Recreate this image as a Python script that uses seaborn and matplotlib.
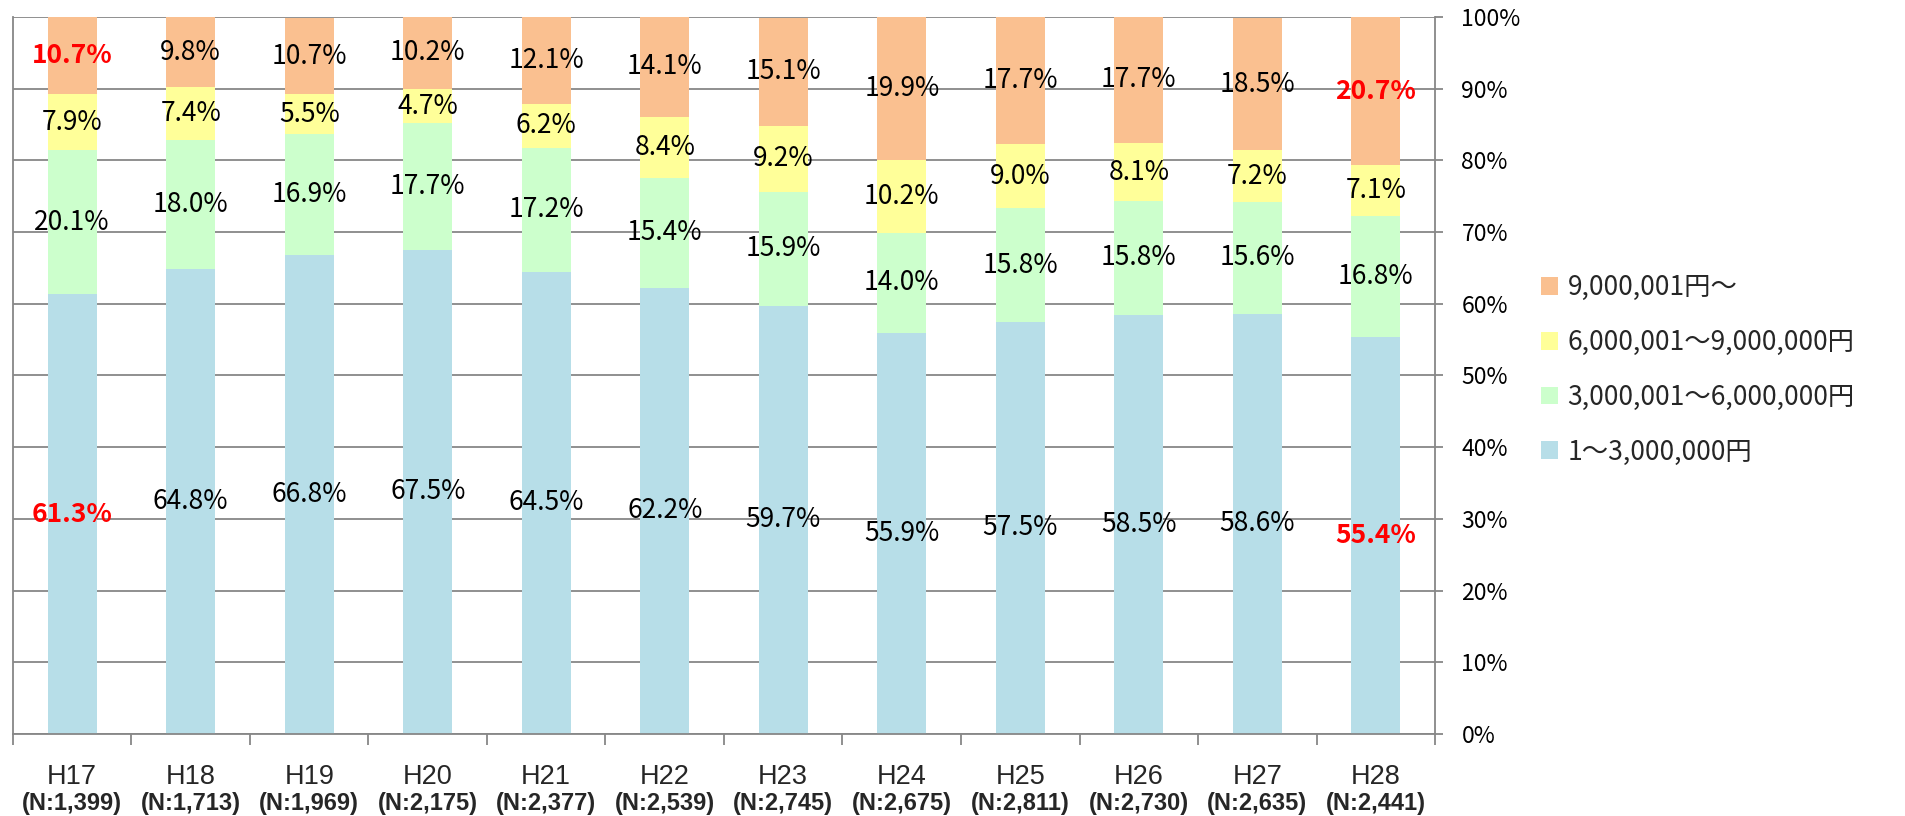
import numpy as np
import pandas as pd
import matplotlib
matplotlib.use("Agg")
import matplotlib.pyplot as plt
from matplotlib.patches import Patch
import seaborn as sns

sns.set_theme(style="white")
plt.rcParams['font.family'] = ['Noto Sans CJK JP', 'DejaVu Sans']

# data (share of respondents, %)
years = ["H17", "H18", "H19", "H20", "H21", "H22", "H23", "H24", "H25", "H26", "H27", "H28"]
sample_sizes = ["1,399", "1,713", "1,969", "2,175", "2,377", "2,539",
                "2,745", "2,675", "2,811", "2,730", "2,635", "2,441"]
band_low = [61.3, 64.8, 66.8, 67.5, 64.5, 62.2, 59.7, 55.9, 57.5, 58.5, 58.6, 55.4]
band_mid = [20.1, 18.0, 16.9, 17.7, 17.2, 15.4, 15.9, 14.0, 15.8, 15.8, 15.6, 16.8]
band_high = [7.9, 7.4, 5.5, 4.7, 6.2, 8.4, 9.2, 10.2, 9.0, 8.1, 7.2, 7.1]
band_top = [10.7, 9.8, 10.7, 10.2, 12.1, 14.1, 15.1, 19.9, 17.7, 17.7, 18.5, 20.7]
band_labels = ["1～3,000,000円", "3,000,001～6,000,000円",
               "6,000,001～9,000,000円", "9,000,001円～"]
band_colors = ["#B7DEE8", "#CCFFCC", "#FFFF99", "#FAC090"]
highlight_years = ["H17", "H28"]
highlight_bands = [band_labels[0], band_labels[3]]

df = pd.DataFrame({"year": years})
for lab, vals in zip(band_labels, [band_low, band_mid, band_high, band_top]):
    df[lab] = vals

grid_gray = "#878787"
narrow = ["Liberation Sans Narrow", "Liberation Sans"]

fig, ax = plt.subplots(figsize=(19.06, 8.16), dpi=100)
fig.subplots_adjust(left=0.0068, right=0.7529, bottom=0.1005, top=0.9792)

bottom = np.zeros(len(years))
for lab, color in zip(band_labels, band_colors):
    sns.barplot(data=df, x="year", y=lab, bottom=bottom, color=color,
                saturation=1, width=0.41, linewidth=0, errorbar=None, ax=ax)
    for i, (yr, v) in enumerate(zip(years, df[lab])):
        red = yr in highlight_years and lab in highlight_bands
        ax.text(i, bottom[i] + v / 2, f"{v:.1f}%", ha="center", va="center",
                fontsize=19, color="#FF0000" if red else "black",
                fontweight="bold" if red else "normal", zorder=5)
    bottom = bottom + df[lab].values

ax.set_xlim(-0.5, len(years) - 0.5)
ax.set_ylim(0, 100)
ax.set_xlabel("")
ax.set_ylabel("")

# y axis on the right
ax.yaxis.tick_right()
ax.set_yticks(np.arange(0, 101, 10))
ax.set_yticklabels([f"{t}%" for t in range(0, 101, 10)])
ax.tick_params(axis="y", which="major", right=True, length=6, width=1.3,
               color=grid_gray, pad=13, labelsize=16.5, labelcolor="black")
ax.yaxis.grid(True, color=grid_gray, linewidth=1.3)
ax.set_axisbelow(True)

# x ticks at category boundaries, labels drawn as two lines
ax.set_xticks(range(len(years)))
ax.set_xticklabels([])
ax.tick_params(axis="x", which="major", length=0)
ax.set_xticks(np.arange(-0.5, len(years), 1), minor=True)
ax.tick_params(axis="x", which="minor", bottom=True, length=8, width=1.3,
               color=grid_gray)
xtr = ax.get_xaxis_transform()
for i, (yr, n) in enumerate(zip(years, sample_sizes)):
    ax.text(i, -0.06, yr, transform=xtr, ha="center", va="center",
            fontsize=19.5, family=narrow)
    ax.text(i, -0.097, f"(N:{n})", transform=xtr, ha="center", va="center",
            fontsize=17, fontweight="bold", family=narrow)

for side in ["left", "right", "bottom"]:
    ax.spines[side].set_visible(True)
    ax.spines[side].set_color(grid_gray)
    ax.spines[side].set_linewidth(1.3)
ax.spines["top"].set_visible(False)

handles = [Patch(facecolor=c, edgecolor="none", label=l)
           for l, c in zip(band_labels, band_colors)][::-1]
fig.legend(handles=handles, loc="center left", bbox_to_anchor=(0.8085, 0.5466),
           frameon=False, fontsize=19, handlelength=0.65, handleheight=0.65,
           handletextpad=0.35, labelspacing=1.05, borderpad=0, borderaxespad=0)

fig.savefig("out.png", dpi=100)
